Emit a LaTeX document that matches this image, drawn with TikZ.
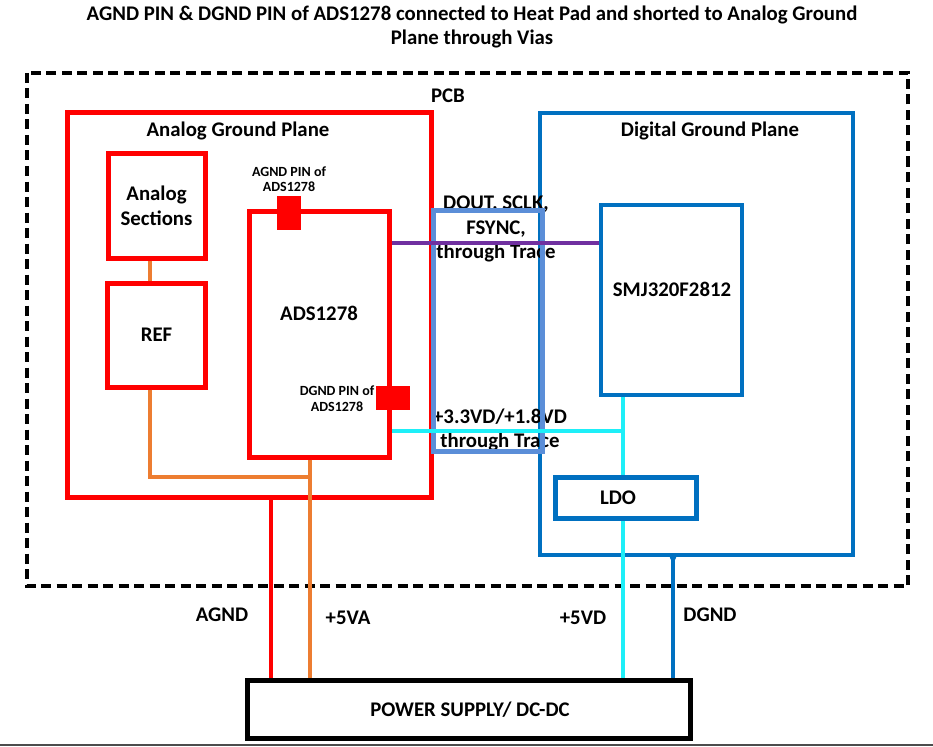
\documentclass[tikz,border=0pt]{standalone}
\usepackage{fontspec}
\setmainfont{Carlito}
\definecolor{pred}{HTML}{FF0000}
\definecolor{porange}{HTML}{ED7D31}
\definecolor{pblue}{HTML}{0070C0}
\definecolor{plight}{HTML}{5B8ED8}
\definecolor{ppurple}{HTML}{7030A0}
\definecolor{pcyan}{HTML}{1EEFF8}
\tikzset{
  box/.style={draw, line width=5pt, inner sep=0pt, anchor=center},
  redbox/.style={box, draw=pred},
  bluebox/.style={box, draw=pblue, line width=4.5pt},
  pin/.style={fill=pred, draw=none, inner sep=0pt, anchor=center},
  lbl/.style={font=\bfseries\fontsize{20.8}{24.5}\selectfont, align=center, inner sep=0pt},
  small/.style={font=\bfseries\fontsize{14}{15.5}\selectfont, align=center, inner sep=0pt},
  orangeline/.style={draw=porange, line width=4pt},
  cyanline/.style={draw=pcyan, line width=4pt},
}
\begin{document}
\begin{tikzpicture}[x=1pt,y=-1pt]
\useasboundingbox (0,0) rectangle (933,746);
\fill[white] (0,0) rectangle (933,746);
% title
\node[lbl] (title) at (472,27) {AGND PIN \& DGND PIN of ADS1278 connected to Heat Pad and shorted to Analog Ground\\Plane through Vias};
% PCB
\draw[line width=4.5pt, dash pattern=on 10pt off 5.5pt] (27,73) rectangle (908,586);
\node[lbl] (pcb) at (448,96) {PCB};
% planes
\node[redbox, minimum width=364pt, minimum height=384pt] (agp) at (249,305) {};
\node[lbl] (agpl) at (238,131) {Analog Ground Plane};
\node[bluebox, minimum width=313pt, minimum height=442pt] (dgp) at (696.5,334) {};
\node[lbl] (dgpl) at (710,131) {Digital Ground Plane};
% analog boxes
\node[redbox, minimum width=97pt, minimum height=104pt, lbl] (asec) at (156.5,206) {Analog\\Sections};
\node[redbox, minimum width=98pt, minimum height=104pt, lbl] (ref) at (156.5,335) {REF};
\node[redbox, minimum width=140pt, minimum height=246pt] (ads) at (319.5,334) {};
\node[lbl] (adsl) at (319,313) {ADS1278};
\node[pin, minimum width=24pt, minimum height=34pt] (apin) at (288.5,213) {};
\node[small] (apinl) at (289,179) {AGND PIN of\\ADS1278};
\node[pin, minimum width=34pt, minimum height=24pt] (dpin) at (393,397.5) {};
\node[small] (dpinl) at (337,398.5) {DGND PIN of\\ADS1278};
% digital boxes
\node[bluebox, minimum width=141pt, minimum height=190pt] (smj) at (671.5,300) {};
\node[lbl] (smjl) at (672,289) {SMJ320F2812};
\node[bluebox, line width=5pt, minimum width=141pt, minimum height=41pt] (ldo) at (626,498) {};
\node[lbl] (ldol) at (618,498) {LDO};
% power supply
\node[box, line width=5pt, minimum width=443pt, minimum height=58pt] (ps) at (468.5,709) {};
\node[lbl] (psl) at (470,710) {POWER SUPPLY/ DC-DC};
% trace texts
\node[lbl] (dtxt) at (496,229) {DOUT, SCLK,\\FSYNC,\\through Trace};
\node[lbl] (vtxt) at (500,430) {+3.3VD/+1.8VD\\through Trace};
% trace rectangle
\node[box, draw=plight, minimum width=109pt, minimum height=241pt] (trace) at (488,331) {};
% coordinates
\coordinate (dy) at (0,243);
\coordinate (cx) at (623,431);
\coordinate (ox) at (150,0);
\coordinate (oj) at (310,477);
\coordinate (ag) at (271,0);
\coordinate (dg) at (673,0);
% connectors
\draw[draw=ppurple, line width=4pt] (ads.east |- dy) -- (smj.west |- dy);
\draw[cyanline] (ads.east |- cx) -- (cx);
\draw[cyanline] (smj.south -| cx) -- (ldo.north -| cx);
\draw[cyanline] (ldo.south -| cx) -- (ps.north -| cx);
\draw[orangeline] (asec.south -| ox) -- (ref.north -| ox);
\draw[orangeline] (ref.south -| ox) |- (oj);
\draw[orangeline] (ads.south -| oj) -- (ps.north -| oj);
\draw[draw=pred, line width=4pt] (agp.south -| ag) -- (ps.north -| ag);
\draw[draw=pblue, line width=4.5pt] (dgp.south -| dg) -- (ps.north -| dg);
\fill[pblue] (dgp.south -| dg) circle (3.2pt);
% bottom labels
\node[lbl] (agndl) at (222,615) {AGND};
\node[lbl] (v5a) at (348,618) {+5VA};
\node[lbl] (v5d) at (583,618) {+5VD};
\node[lbl] (dgndl) at (710,615) {DGND};
% bottom rule
\draw[draw=black!70, line width=2pt] (0,744.5) -- (933,744.5);
\end{tikzpicture}
\end{document}
